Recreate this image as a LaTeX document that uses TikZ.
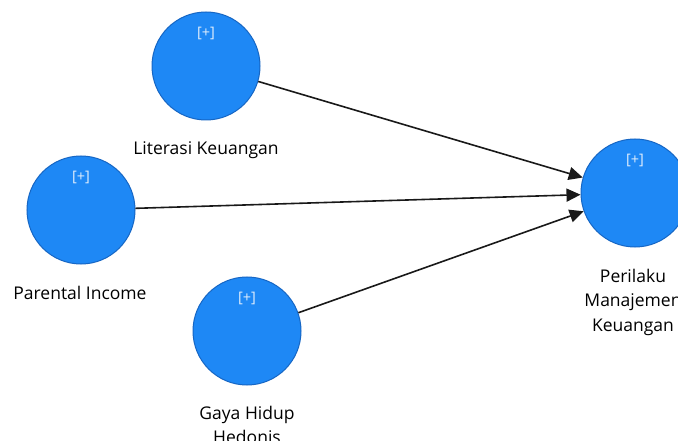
\documentclass[tikz,border=0pt]{standalone}
\usepackage{fontspec}
\setmainfont{Open Sans}
\usetikzlibrary{arrows.meta,positioning}
\definecolor{lvfill}{RGB}{30,136,245}
\definecolor{lvline}{RGB}{22,102,196}
\definecolor{plustext}{RGB}{225,238,252}
\begin{document}
\begin{tikzpicture}[x=1pt,y=-1pt,
  lv/.style={circle, draw=lvline, line width=1pt, fill=lvfill, minimum size=108pt, inner sep=0pt},
  plusmark/.style={text=plustext, font=\fontsize{14.5}{15}\selectfont, inner sep=0pt},
  lvname/.style={font=\fontsize{17.5}{24.5}\selectfont, align=center, inner sep=0pt},
  rel/.style={-{Triangle[length=14pt,width=13pt]}, line width=1.6pt, draw=black!90}]
\useasboundingbox (0,0) rectangle (678,441);
% latent variables
\node[lv] (lit) at (206,66){};
\node[lv] (par) at (81,210){};
\node[lv] (gay) at (247,331){};
\node[lv] (pmk) at (635,193){};
\node[plusmark] (litp) at (206,33){[+]};
\node[plusmark] (parp) at (81,177){[+]};
\node[plusmark] (gayp) at (247,298){[+]};
\node[plusmark] (pmkp) at (635,160){[+]};
% names
\node[lvname] (litn) at (206,150){Literasi Keuangan};
\node[lvname] (parn) at (80,293){Parental Income};
\node[lvname] (gayn) at (247,425){Gaya Hidup\\Hedonis};
\node[lvname] (pmkn) at (633,302){Perilaku\\Manajemen\\Keuangan};
% paths
\draw[rel] (lit) -- (pmk);
\draw[rel] (par) -- (pmk);
\draw[rel] (gay) -- (pmk);

\end{tikzpicture}
\end{document}
